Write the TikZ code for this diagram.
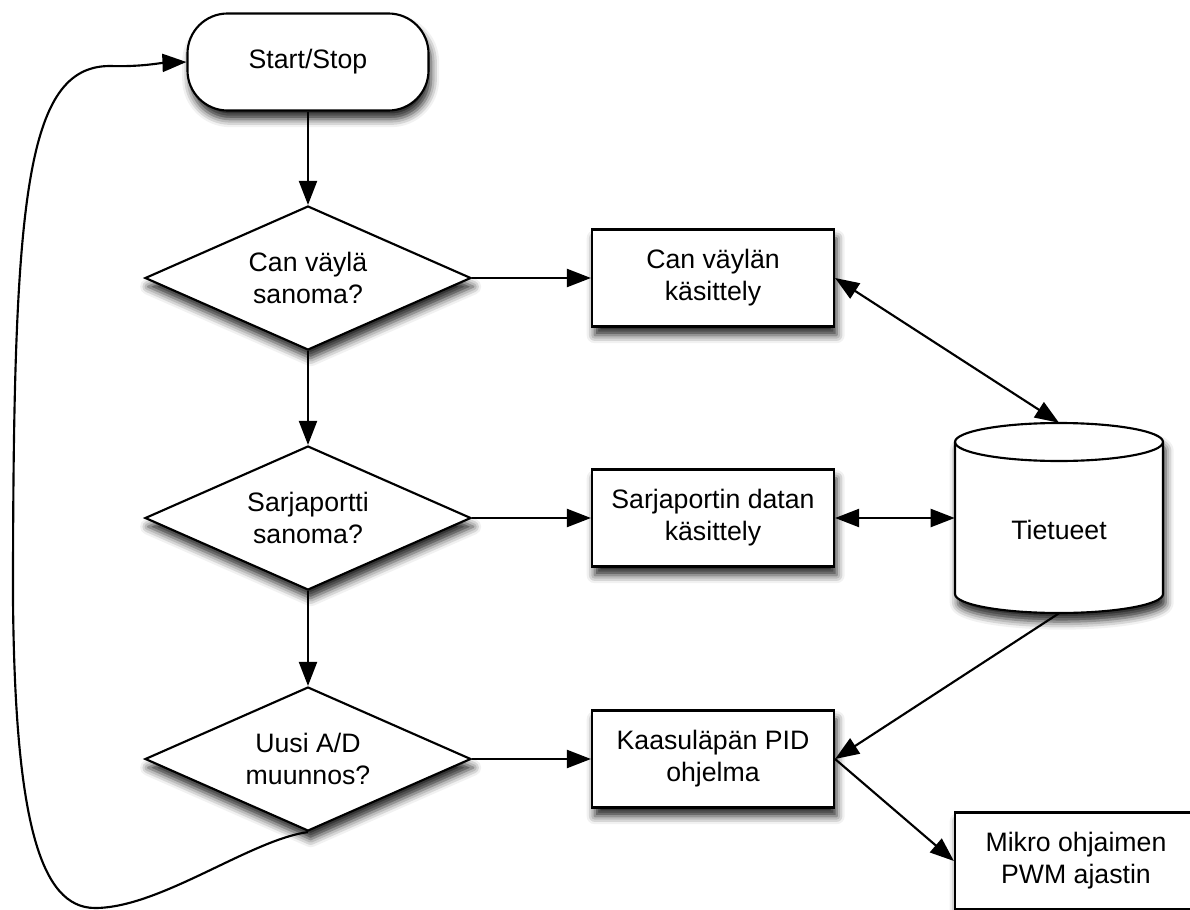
\documentclass[tikz,border=0pt]{standalone}
\usepackage{fontspec}
\setmainfont{Liberation Sans}
\usetikzlibrary{shapes.geometric,arrows.meta,shadows.blur}

\begin{document}
\begin{tikzpicture}[x=0.75pt,y=-0.75pt,
  font=\fontsize{20pt}{24pt}\selectfont,
  softshadow/.style={blur shadow={shadow xshift=2pt,shadow yshift=-6.5pt,
      shadow blur radius=6pt,shadow opacity=85}},
  base/.style={draw=black,line width=1.6pt,fill=white,align=center,
      inner sep=0pt,softshadow},
  terminal/.style={base,rectangle,rounded corners=30pt,
      minimum width=180.75pt,minimum height=72.75pt},
  decision/.style={base,diamond,aspect=2.26,
      minimum width=244.5pt,minimum height=108pt},
  process/.style={base,rectangle,minimum width=181.5pt,minimum height=72.75pt},
  flow/.style={draw=black,line width=1.6pt,
      -{Triangle[length=18pt,width=13.5pt,fill=black]}},
  twoway/.style={draw=black,line width=1.6pt,
      {Triangle[length=18pt,width=13.5pt,fill=black]}-{Triangle[length=18pt,width=13.5pt,fill=black]}},
]
\useasboundingbox (0,0) rectangle (1190,910);
\clip (0,0) rectangle (1190,910);

% main decision chain
\node[terminal] (start) at (308,62) {Start/Stop};
\node[decision] (can)  at (308,278) {Can väylä\\sanoma?};
\node[decision] (ser)  at (308,518) {Sarjaportti\\sanoma?};
\node[decision] (ad)   at (308,759) {Uusi A/D\\muunnos?};

% handlers
\node[process] (canp) at (713,278) {Can väylän\\käsittely};
\node[process] (serp) at (713,518) {Sarjaportin datan\\käsittely};
\node[process] (pid)  at (713,759) {Kaasuläpän PID\\ohjelma};
\node[process] (pwm)  at (1076,861) {Mikro ohjaimen\\PWM ajastin};

% data store (cylinder)
\path[fill=white,draw=black,line width=1.6pt,softshadow]
  (955,442) -- (955,594)
  arc[start angle=180,end angle=360,x radius=78pt,y radius=14.25pt]
  -- (1163,442)
  arc[start angle=0,end angle=180,x radius=78pt,y radius=14.25pt] -- cycle;
\draw[line width=1.6pt] (955,442)
  arc[start angle=180,end angle=360,x radius=78pt,y radius=14.25pt];
\node[minimum width=156pt,minimum height=142.5pt,inner sep=0pt] (db) at (1059,518) {};
\node (dblabel) at (1059,530) {Tietueet};

% connectors
\draw[flow] (start.south) -- (can.north);
\draw[flow] (can.south) -- (ser.north);
\draw[flow] (ser.south) -- (ad.north);
\draw[flow] (can.east) -- (canp.west);
\draw[flow] (ser.east) -- (serp.west);
\draw[flow] (ad.east) -- (pid.west);
\draw[twoway] (canp.east) -- (db.north);
\draw[twoway] (serp.east) -- (db.west);
\draw[flow] (db.south) -- (pid.east);
\draw[flow] (pid.east) -- (pwm.west);

% loop back to the start
\draw[flow] (ad.south)
  .. controls (250,840) and (160,908) .. (95,908)
  .. controls (40,908) and (15,820) .. (13,600)
  .. controls (13,200) and (25,66) .. (110,66)
  .. controls (140,67) and (160,63) .. (start.west);
\end{tikzpicture}
\end{document}
